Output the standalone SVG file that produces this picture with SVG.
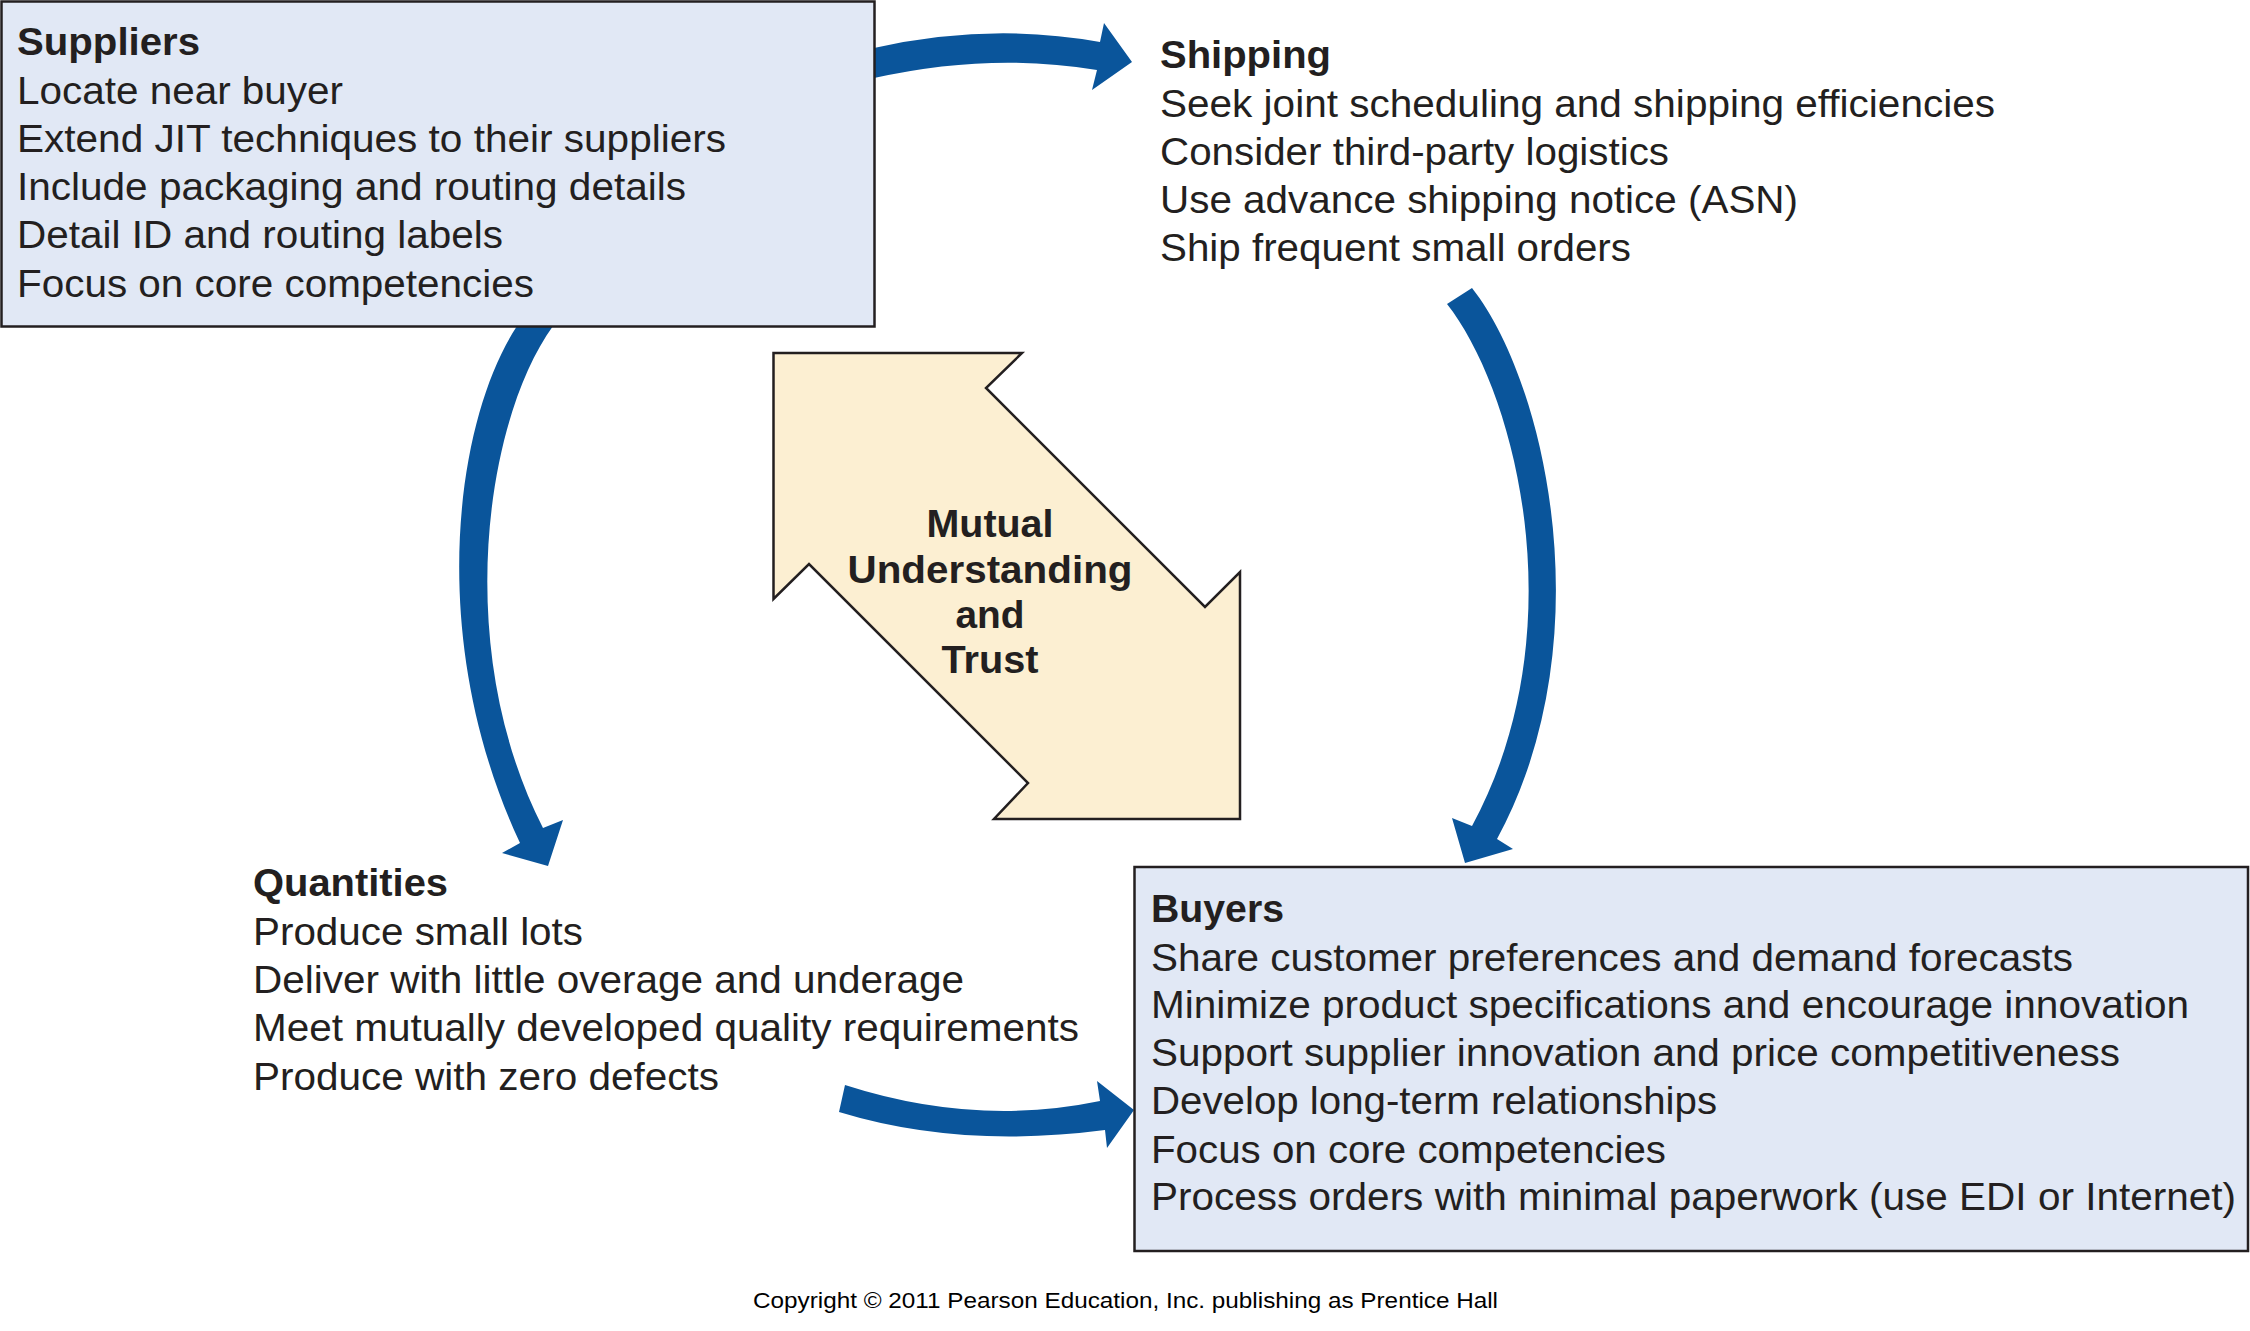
<svg xmlns="http://www.w3.org/2000/svg" width="2250" height="1331" viewBox="0 0 2250 1331">
<style>
  .box { fill: #E1E8F5; stroke: #231F20; stroke-width: 2.5; }
  .t { font-family: "Liberation Sans", Arial, sans-serif; font-size: 38px; fill: #231F20; }
  .h { font-weight: bold; }
  .c { text-anchor: middle; font-weight: bold; }
  .flow { fill: #0A559B; stroke: none; }
  .trust { fill: #FCEFD2; stroke: #231F20; stroke-width: 2.5; stroke-linejoin: miter; }
  .copy { font-family: "Liberation Sans", Arial, sans-serif; font-size: 22px; fill: #000; }
</style>
<rect width="2250" height="1331" fill="#FFFFFF"/>

<g id="connectors">
  <path class="flow" d="M 874,48 Q 990,22 1100,42 L 1104,23 L 1132,62 L 1092,90 L 1097,70 Q 990,52 874,78 Z"/>
  <path class="flow" d="M 1447,304 L 1472,288 C 1545,380 1605,640 1497,839 L 1513,849 L 1465,863 L 1452,818 L 1472,826 C 1578,630 1515,390 1447,304 Z"/>
  <path class="flow" d="M 517,326 C 455,420 425,640 520,843 L 502,853 L 548,866 L 563,820 L 543,828 C 452,650 485,420 553,326 Z"/>
  <path class="flow" d="M 845,1085 Q 975,1127 1100,1101 L 1097,1081 L 1134,1110 L 1107,1148 L 1105,1130 Q 960,1149 839,1112 Z"/>
</g>

<g id="suppliers">
  <rect class="box" x="1.5" y="1.5" width="873" height="325"/>
  <text class="t h" x="17" y="55" textLength="183" lengthAdjust="spacingAndGlyphs">Suppliers</text>
  <text class="t" x="17" y="104" textLength="326" lengthAdjust="spacingAndGlyphs">Locate near buyer</text>
  <text class="t" x="17" y="152" textLength="709" lengthAdjust="spacingAndGlyphs">Extend JIT techniques to their suppliers</text>
  <text class="t" x="17" y="200" textLength="669" lengthAdjust="spacingAndGlyphs">Include packaging and routing details</text>
  <text class="t" x="17" y="248" textLength="486" lengthAdjust="spacingAndGlyphs">Detail ID and routing labels</text>
  <text class="t" x="17" y="297" textLength="517" lengthAdjust="spacingAndGlyphs">Focus on core competencies</text>
</g>

<g id="shipping">
  <text class="t h" x="1160" y="68" textLength="171" lengthAdjust="spacingAndGlyphs">Shipping</text>
  <text class="t" x="1160" y="117" textLength="835" lengthAdjust="spacingAndGlyphs">Seek joint scheduling and shipping efficiencies</text>
  <text class="t" x="1160" y="165" textLength="509" lengthAdjust="spacingAndGlyphs">Consider third-party logistics</text>
  <text class="t" x="1160" y="213" textLength="638" lengthAdjust="spacingAndGlyphs">Use advance shipping notice (ASN)</text>
  <text class="t" x="1160" y="261" textLength="471" lengthAdjust="spacingAndGlyphs">Ship frequent small orders</text>
</g>

<g id="trust">
  <polygon class="trust" points="773.5,353 1022,353 986,388 1205,607 1240,572 1240,819 994,819 1028,783 809,564 773.5,599"/>
  <text class="t c" x="990" y="537" textLength="127" lengthAdjust="spacingAndGlyphs">Mutual</text>
  <text class="t c" x="990" y="583" textLength="285" lengthAdjust="spacingAndGlyphs">Understanding</text>
  <text class="t c" x="990" y="628" textLength="69" lengthAdjust="spacingAndGlyphs">and</text>
  <text class="t c" x="990" y="673" textLength="97" lengthAdjust="spacingAndGlyphs">Trust</text>
</g>

<g id="quantities">
  <text class="t h" x="253" y="896" textLength="195" lengthAdjust="spacingAndGlyphs">Quantities</text>
  <text class="t" x="253" y="945" textLength="330" lengthAdjust="spacingAndGlyphs">Produce small lots</text>
  <text class="t" x="253" y="993" textLength="711" lengthAdjust="spacingAndGlyphs">Deliver with little overage and underage</text>
  <text class="t" x="253" y="1041" textLength="826" lengthAdjust="spacingAndGlyphs">Meet mutually developed quality requirements</text>
  <text class="t" x="253" y="1090" textLength="466" lengthAdjust="spacingAndGlyphs">Produce with zero defects</text>
</g>

<g id="buyers">
  <rect class="box" x="1134.5" y="867" width="1113.5" height="384"/>
  <text class="t h" x="1151" y="922" textLength="133" lengthAdjust="spacingAndGlyphs">Buyers</text>
  <text class="t" x="1151" y="971" textLength="922" lengthAdjust="spacingAndGlyphs">Share customer preferences and demand forecasts</text>
  <text class="t" x="1151" y="1018" textLength="1038" lengthAdjust="spacingAndGlyphs">Minimize product specifications and encourage innovation</text>
  <text class="t" x="1151" y="1066" textLength="969" lengthAdjust="spacingAndGlyphs">Support supplier innovation and price competitiveness</text>
  <text class="t" x="1151" y="1114" textLength="566" lengthAdjust="spacingAndGlyphs">Develop long-term relationships</text>
  <text class="t" x="1151" y="1163" textLength="515" lengthAdjust="spacingAndGlyphs">Focus on core competencies</text>
  <text class="t" x="1151" y="1210" textLength="1085" lengthAdjust="spacingAndGlyphs">Process orders with minimal paperwork (use EDI or Internet)</text>
</g>

<text class="copy" x="753" y="1308" textLength="745" lengthAdjust="spacingAndGlyphs">Copyright © 2011 Pearson Education, Inc. publishing as Prentice Hall</text>
</svg>
